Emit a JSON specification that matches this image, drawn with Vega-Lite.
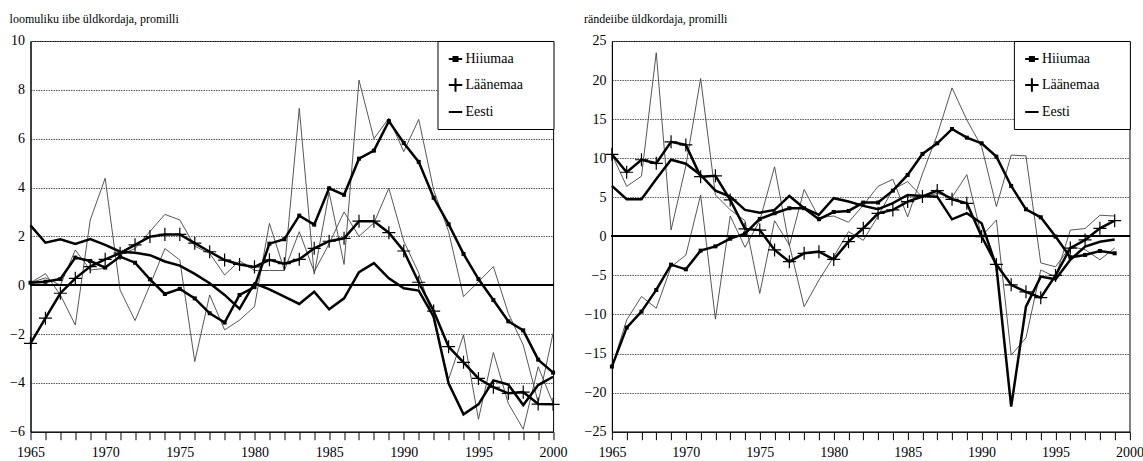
{
"$schema": "https://vega.github.io/schema/vega-lite/v6.json",
"padding": {"left": 8.5, "top": 12, "right": 0, "bottom": 0},
"background": "white",
"bounds": "flush",
"spacing": 58.4,
"resolve": {"scale": {"stroke": "independent"}, "legend": {"stroke": "independent"}},
"config": {
  "font": "Liberation Serif",
  "view": {"stroke": "#000", "strokeWidth": 1},
  "axis": {"labelFont": "Liberation Serif", "labelFontSize": 14, "labelColor": "#000", "domainColor": "#000", "tickColor": "#000", "title": null, "labelOverlap": false, "labelFlush": false},
  "title": {"font": "Liberation Serif", "fontSize": 12, "fontWeight": "normal", "anchor": "start", "color": "#000", "offset": 8},
  "legend": {"title": null, "orient": "top-right", "offset": 0, "padding": 10, "strokeColor": "#000", "fillColor": "#fff", "labelFont": "Liberation Serif", "labelFontSize": 14, "labelColor": "#000", "symbolSize": 180, "symbolStrokeWidth": 2, "rowPadding": 8, "labelOffset": 2}
},
"datasets": {
"loomulik": [
{"year":1965,"series":"Hiiumaa","value":0.10},{"year":1966,"series":"Hiiumaa","value":0.14},{"year":1967,"series":"Hiiumaa","value":0.25},{"year":1968,"series":"Hiiumaa","value":1.13},{"year":1969,"series":"Hiiumaa","value":0.99},{"year":1970,"series":"Hiiumaa","value":0.72},{"year":1971,"series":"Hiiumaa","value":1.17},{"year":1972,"series":"Hiiumaa","value":0.92},{"year":1973,"series":"Hiiumaa","value":0.24},{"year":1974,"series":"Hiiumaa","value":-0.36},{"year":1975,"series":"Hiiumaa","value":-0.15},{"year":1976,"series":"Hiiumaa","value":-0.54},{"year":1977,"series":"Hiiumaa","value":-1.15},{"year":1978,"series":"Hiiumaa","value":-1.53},{"year":1979,"series":"Hiiumaa","value":-0.40},{"year":1980,"series":"Hiiumaa","value":-0.08},{"year":1981,"series":"Hiiumaa","value":1.70},{"year":1982,"series":"Hiiumaa","value":1.88},{"year":1983,"series":"Hiiumaa","value":2.85},{"year":1984,"series":"Hiiumaa","value":2.48},{"year":1985,"series":"Hiiumaa","value":3.97},{"year":1986,"series":"Hiiumaa","value":3.70},{"year":1987,"series":"Hiiumaa","value":5.18},{"year":1988,"series":"Hiiumaa","value":5.51},{"year":1989,"series":"Hiiumaa","value":6.72},{"year":1990,"series":"Hiiumaa","value":5.82},{"year":1991,"series":"Hiiumaa","value":5.05},{"year":1992,"series":"Hiiumaa","value":3.58},{"year":1993,"series":"Hiiumaa","value":2.50},{"year":1994,"series":"Hiiumaa","value":1.28},{"year":1995,"series":"Hiiumaa","value":0.25},{"year":1996,"series":"Hiiumaa","value":-0.61},{"year":1997,"series":"Hiiumaa","value":-1.48},{"year":1998,"series":"Hiiumaa","value":-1.85},{"year":1999,"series":"Hiiumaa","value":-3.05},{"year":2000,"series":"Hiiumaa","value":-3.58},
{"year":1965,"series":"Läänemaa","value":-2.38},{"year":1966,"series":"Läänemaa","value":-1.35},{"year":1967,"series":"Läänemaa","value":-0.33},{"year":1968,"series":"Läänemaa","value":0.28},{"year":1969,"series":"Läänemaa","value":0.76},{"year":1970,"series":"Läänemaa","value":1.06},{"year":1971,"series":"Läänemaa","value":1.31},{"year":1972,"series":"Läänemaa","value":1.65},{"year":1973,"series":"Läänemaa","value":1.99},{"year":1974,"series":"Läänemaa","value":2.08},{"year":1975,"series":"Läänemaa","value":2.08},{"year":1976,"series":"Läänemaa","value":1.72},{"year":1977,"series":"Läänemaa","value":1.37},{"year":1978,"series":"Läänemaa","value":1.03},{"year":1979,"series":"Läänemaa","value":0.85},{"year":1980,"series":"Läänemaa","value":0.75},{"year":1981,"series":"Läänemaa","value":1.04},{"year":1982,"series":"Läänemaa","value":0.88},{"year":1983,"series":"Läänemaa","value":1.06},{"year":1984,"series":"Läänemaa","value":1.51},{"year":1985,"series":"Läänemaa","value":1.80},{"year":1986,"series":"Läänemaa","value":1.92},{"year":1987,"series":"Läänemaa","value":2.62},{"year":1988,"series":"Läänemaa","value":2.62},{"year":1989,"series":"Läänemaa","value":2.15},{"year":1990,"series":"Läänemaa","value":1.40},{"year":1991,"series":"Läänemaa","value":0.12},{"year":1992,"series":"Läänemaa","value":-1.06},{"year":1993,"series":"Läänemaa","value":-2.52},{"year":1994,"series":"Läänemaa","value":-3.16},{"year":1995,"series":"Läänemaa","value":-3.82},{"year":1996,"series":"Läänemaa","value":-4.18},{"year":1997,"series":"Läänemaa","value":-4.43},{"year":1998,"series":"Läänemaa","value":-4.38},{"year":1999,"series":"Läänemaa","value":-4.87},{"year":2000,"series":"Läänemaa","value":-4.88},
{"year":1965,"series":"Eesti","value":2.45},{"year":1966,"series":"Eesti","value":1.74},{"year":1967,"series":"Eesti","value":1.88},{"year":1968,"series":"Eesti","value":1.69},{"year":1969,"series":"Eesti","value":1.89},{"year":1970,"series":"Eesti","value":1.65},{"year":1971,"series":"Eesti","value":1.37},{"year":1972,"series":"Eesti","value":1.33},{"year":1973,"series":"Eesti","value":1.23},{"year":1974,"series":"Eesti","value":0.97},{"year":1975,"series":"Eesti","value":0.80},{"year":1976,"series":"Eesti","value":0.46},{"year":1977,"series":"Eesti","value":0.08},{"year":1978,"series":"Eesti","value":-0.40},{"year":1979,"series":"Eesti","value":-0.97},{"year":1980,"series":"Eesti","value":0.08},{"year":1981,"series":"Eesti","value":-0.17},{"year":1982,"series":"Eesti","value":-0.47},{"year":1983,"series":"Eesti","value":-0.77},{"year":1984,"series":"Eesti","value":-0.27},{"year":1985,"series":"Eesti","value":-0.99},{"year":1986,"series":"Eesti","value":-0.54},{"year":1987,"series":"Eesti","value":0.53},{"year":1988,"series":"Eesti","value":0.90},{"year":1989,"series":"Eesti","value":0.28},{"year":1990,"series":"Eesti","value":-0.13},{"year":1991,"series":"Eesti","value":-0.22},{"year":1992,"series":"Eesti","value":-1.29},{"year":1993,"series":"Eesti","value":-4.02},{"year":1994,"series":"Eesti","value":-5.29},{"year":1995,"series":"Eesti","value":-4.88},{"year":1996,"series":"Eesti","value":-3.90},{"year":1997,"series":"Eesti","value":-4.07},{"year":1998,"series":"Eesti","value":-4.91},{"year":1999,"series":"Eesti","value":-4.09},{"year":2000,"series":"Eesti","value":-3.75},
{"year":1965,"series":"Hiiumaa aastane","value":0.10},{"year":1966,"series":"Hiiumaa aastane","value":0.47},{"year":1967,"series":"Hiiumaa aastane","value":-0.40},{"year":1968,"series":"Hiiumaa aastane","value":-1.63},{"year":1969,"series":"Hiiumaa aastane","value":2.67},{"year":1970,"series":"Hiiumaa aastane","value":4.38},{"year":1971,"series":"Hiiumaa aastane","value":-0.20},{"year":1972,"series":"Hiiumaa aastane","value":-1.45},{"year":1973,"series":"Hiiumaa aastane","value":0.00},{"year":1974,"series":"Hiiumaa aastane","value":1.50},{"year":1975,"series":"Hiiumaa aastane","value":1.03},{"year":1976,"series":"Hiiumaa aastane","value":-3.13},{"year":1977,"series":"Hiiumaa aastane","value":-0.40},{"year":1978,"series":"Hiiumaa aastane","value":-1.83},{"year":1979,"series":"Hiiumaa aastane","value":-1.43},{"year":1980,"series":"Hiiumaa aastane","value":-0.88},{"year":1981,"series":"Hiiumaa aastane","value":2.53},{"year":1982,"series":"Hiiumaa aastane","value":0.62},{"year":1983,"series":"Hiiumaa aastane","value":7.24},{"year":1984,"series":"Hiiumaa aastane","value":0.45},{"year":1985,"series":"Hiiumaa aastane","value":3.80},{"year":1986,"series":"Hiiumaa aastane","value":0.85},{"year":1987,"series":"Hiiumaa aastane","value":8.40},{"year":1988,"series":"Hiiumaa aastane","value":6.00},{"year":1989,"series":"Hiiumaa aastane","value":6.84},{"year":1990,"series":"Hiiumaa aastane","value":5.47},{"year":1991,"series":"Hiiumaa aastane","value":6.79},{"year":1992,"series":"Hiiumaa aastane","value":3.90},{"year":1993,"series":"Hiiumaa aastane","value":2.20},{"year":1994,"series":"Hiiumaa aastane","value":-0.47},{"year":1995,"series":"Hiiumaa aastane","value":0.14},{"year":1996,"series":"Hiiumaa aastane","value":0.76},{"year":1997,"series":"Hiiumaa aastane","value":-1.15},{"year":1998,"series":"Hiiumaa aastane","value":-2.45},{"year":1999,"series":"Hiiumaa aastane","value":-4.80},{"year":2000,"series":"Hiiumaa aastane","value":-1.97},
{"year":1965,"series":"Läänemaa aastane","value":0.10},{"year":1966,"series":"Läänemaa aastane","value":0.30},{"year":1967,"series":"Läänemaa aastane","value":0.00},{"year":1968,"series":"Läänemaa aastane","value":1.44},{"year":1969,"series":"Läänemaa aastane","value":0.62},{"year":1970,"series":"Läänemaa aastane","value":0.69},{"year":1971,"series":"Läänemaa aastane","value":1.24},{"year":1972,"series":"Läänemaa aastane","value":1.50},{"year":1973,"series":"Läänemaa aastane","value":2.20},{"year":1974,"series":"Läänemaa aastane","value":2.90},{"year":1975,"series":"Läänemaa aastane","value":2.67},{"year":1976,"series":"Läänemaa aastane","value":1.60},{"year":1977,"series":"Läänemaa aastane","value":1.30},{"year":1978,"series":"Läänemaa aastane","value":0.42},{"year":1979,"series":"Läänemaa aastane","value":1.00},{"year":1980,"series":"Läänemaa aastane","value":0.60},{"year":1981,"series":"Läänemaa aastane","value":0.60},{"year":1982,"series":"Läänemaa aastane","value":0.60},{"year":1983,"series":"Läänemaa aastane","value":2.19},{"year":1984,"series":"Läänemaa aastane","value":0.55},{"year":1985,"series":"Läänemaa aastane","value":1.70},{"year":1986,"series":"Läänemaa aastane","value":3.00},{"year":1987,"series":"Läänemaa aastane","value":2.00},{"year":1988,"series":"Läänemaa aastane","value":2.55},{"year":1989,"series":"Läänemaa aastane","value":3.97},{"year":1990,"series":"Läänemaa aastane","value":1.80},{"year":1991,"series":"Läänemaa aastane","value":0.50},{"year":1992,"series":"Läänemaa aastane","value":-1.40},{"year":1993,"series":"Läänemaa aastane","value":-3.86},{"year":1994,"series":"Läänemaa aastane","value":-2.04},{"year":1995,"series":"Läänemaa aastane","value":-5.49},{"year":1996,"series":"Läänemaa aastane","value":-2.76},{"year":1997,"series":"Läänemaa aastane","value":-4.84},{"year":1998,"series":"Läänemaa aastane","value":-5.90},{"year":1999,"series":"Läänemaa aastane","value":-3.34},{"year":2000,"series":"Läänemaa aastane","value":-4.84}
],
"rande": [
{"year":1965,"series":"Hiiumaa","value":-16.67},{"year":1966,"series":"Hiiumaa","value":-11.68},{"year":1967,"series":"Hiiumaa","value":-9.63},{"year":1968,"series":"Hiiumaa","value":-6.86},{"year":1969,"series":"Hiiumaa","value":-3.62},{"year":1970,"series":"Hiiumaa","value":-4.22},{"year":1971,"series":"Hiiumaa","value":-1.83},{"year":1972,"series":"Hiiumaa","value":-1.28},{"year":1973,"series":"Hiiumaa","value":-0.30},{"year":1974,"series":"Hiiumaa","value":0.35},{"year":1975,"series":"Hiiumaa","value":2.23},{"year":1976,"series":"Hiiumaa","value":2.96},{"year":1977,"series":"Hiiumaa","value":3.60},{"year":1978,"series":"Hiiumaa","value":3.60},{"year":1979,"series":"Hiiumaa","value":2.19},{"year":1980,"series":"Hiiumaa","value":3.12},{"year":1981,"series":"Hiiumaa","value":3.25},{"year":1982,"series":"Hiiumaa","value":4.32},{"year":1983,"series":"Hiiumaa","value":4.32},{"year":1984,"series":"Hiiumaa","value":5.85},{"year":1985,"series":"Hiiumaa","value":7.86},{"year":1986,"series":"Hiiumaa","value":10.55},{"year":1987,"series":"Hiiumaa","value":11.91},{"year":1988,"series":"Hiiumaa","value":13.74},{"year":1989,"series":"Hiiumaa","value":12.63},{"year":1990,"series":"Hiiumaa","value":11.91},{"year":1991,"series":"Hiiumaa","value":10.20},{"year":1992,"series":"Hiiumaa","value":6.45},{"year":1993,"series":"Hiiumaa","value":3.46},{"year":1994,"series":"Hiiumaa","value":2.44},{"year":1995,"series":"Hiiumaa","value":-0.03},{"year":1996,"series":"Hiiumaa","value":-2.68},{"year":1997,"series":"Hiiumaa","value":-2.38},{"year":1998,"series":"Hiiumaa","value":-1.87},{"year":1999,"series":"Hiiumaa","value":-2.17},
{"year":1965,"series":"Läänemaa","value":10.50},{"year":1966,"series":"Läänemaa","value":8.20},{"year":1967,"series":"Läänemaa","value":9.80},{"year":1968,"series":"Läänemaa","value":9.35},{"year":1969,"series":"Läänemaa","value":12.10},{"year":1970,"series":"Läänemaa","value":11.70},{"year":1971,"series":"Läänemaa","value":7.64},{"year":1972,"series":"Läänemaa","value":7.75},{"year":1973,"series":"Läänemaa","value":4.66},{"year":1974,"series":"Läänemaa","value":0.95},{"year":1975,"series":"Läänemaa","value":0.80},{"year":1976,"series":"Läänemaa","value":-1.74},{"year":1977,"series":"Läänemaa","value":-3.24},{"year":1978,"series":"Läänemaa","value":-2.17},{"year":1979,"series":"Läänemaa","value":-1.96},{"year":1980,"series":"Läänemaa","value":-2.95},{"year":1981,"series":"Läänemaa","value":-0.68},{"year":1982,"series":"Läänemaa","value":1.03},{"year":1983,"series":"Läänemaa","value":2.95},{"year":1984,"series":"Läänemaa","value":3.38},{"year":1985,"series":"Läänemaa","value":4.45},{"year":1986,"series":"Läänemaa","value":5.10},{"year":1987,"series":"Läänemaa","value":5.85},{"year":1988,"series":"Läänemaa","value":4.74},{"year":1989,"series":"Läänemaa","value":4.23},{"year":1990,"series":"Läänemaa","value":-0.03},{"year":1991,"series":"Läänemaa","value":-3.60},{"year":1992,"series":"Läänemaa","value":-6.20},{"year":1993,"series":"Läänemaa","value":-7.10},{"year":1994,"series":"Läänemaa","value":-7.85},{"year":1995,"series":"Läänemaa","value":-5.00},{"year":1996,"series":"Läänemaa","value":-1.50},{"year":1997,"series":"Läänemaa","value":-0.46},{"year":1998,"series":"Läänemaa","value":1.03},{"year":1999,"series":"Läänemaa","value":2.00},
{"year":1965,"series":"Eesti","value":6.45},{"year":1966,"series":"Eesti","value":4.75},{"year":1967,"series":"Eesti","value":4.75},{"year":1968,"series":"Eesti","value":7.35},{"year":1969,"series":"Eesti","value":9.80},{"year":1970,"series":"Eesti","value":9.30},{"year":1971,"series":"Eesti","value":7.86},{"year":1972,"series":"Eesti","value":5.85},{"year":1973,"series":"Eesti","value":5.08},{"year":1974,"series":"Eesti","value":3.38},{"year":1975,"series":"Eesti","value":3.03},{"year":1976,"series":"Eesti","value":3.38},{"year":1977,"series":"Eesti","value":5.17},{"year":1978,"series":"Eesti","value":3.60},{"year":1979,"series":"Eesti","value":2.75},{"year":1980,"series":"Eesti","value":4.88},{"year":1981,"series":"Eesti","value":4.45},{"year":1982,"series":"Eesti","value":3.90},{"year":1983,"series":"Eesti","value":3.47},{"year":1984,"series":"Eesti","value":4.24},{"year":1985,"series":"Eesti","value":5.30},{"year":1986,"series":"Eesti","value":5.17},{"year":1987,"series":"Eesti","value":5.08},{"year":1988,"series":"Eesti","value":2.18},{"year":1989,"series":"Eesti","value":2.96},{"year":1990,"series":"Eesti","value":1.68},{"year":1991,"series":"Eesti","value":-3.86},{"year":1992,"series":"Eesti","value":-21.80},{"year":1993,"series":"Eesti","value":-9.00},{"year":1994,"series":"Eesti","value":-5.15},{"year":1995,"series":"Eesti","value":-5.50},{"year":1996,"series":"Eesti","value":-3.00},{"year":1997,"series":"Eesti","value":-1.30},{"year":1998,"series":"Eesti","value":-0.70},{"year":1999,"series":"Eesti","value":-0.40},
{"year":1965,"series":"Hiiumaa aastane","value":-16.7},{"year":1966,"series":"Hiiumaa aastane","value":-10.7},{"year":1967,"series":"Hiiumaa aastane","value":-7.7},{"year":1968,"series":"Hiiumaa aastane","value":-9.2},{"year":1969,"series":"Hiiumaa aastane","value":-3.9},{"year":1970,"series":"Hiiumaa aastane","value":-2.4},{"year":1971,"series":"Hiiumaa aastane","value":5.3},{"year":1972,"series":"Hiiumaa aastane","value":-10.6},{"year":1973,"series":"Hiiumaa aastane","value":2.6},{"year":1974,"series":"Hiiumaa aastane","value":-1.4},{"year":1975,"series":"Hiiumaa aastane","value":2.0},{"year":1976,"series":"Hiiumaa aastane","value":8.9},{"year":1977,"series":"Hiiumaa aastane","value":-1.2},{"year":1978,"series":"Hiiumaa aastane","value":6.0},{"year":1979,"series":"Hiiumaa aastane","value":2.4},{"year":1980,"series":"Hiiumaa aastane","value":2.6},{"year":1981,"series":"Hiiumaa aastane","value":1.8},{"year":1982,"series":"Hiiumaa aastane","value":4.0},{"year":1983,"series":"Hiiumaa aastane","value":6.4},{"year":1984,"series":"Hiiumaa aastane","value":7.3},{"year":1985,"series":"Hiiumaa aastane","value":2.5},{"year":1986,"series":"Hiiumaa aastane","value":8.0},{"year":1987,"series":"Hiiumaa aastane","value":13.0},{"year":1988,"series":"Hiiumaa aastane","value":19.0},{"year":1989,"series":"Hiiumaa aastane","value":14.9},{"year":1990,"series":"Hiiumaa aastane","value":11.5},{"year":1991,"series":"Hiiumaa aastane","value":3.8},{"year":1992,"series":"Hiiumaa aastane","value":10.4},{"year":1993,"series":"Hiiumaa aastane","value":10.3},{"year":1994,"series":"Hiiumaa aastane","value":-3.4},{"year":1995,"series":"Hiiumaa aastane","value":-3.9},{"year":1996,"series":"Hiiumaa aastane","value":-1.3},{"year":1997,"series":"Hiiumaa aastane","value":-1.7},{"year":1998,"series":"Hiiumaa aastane","value":-3.0},{"year":1999,"series":"Hiiumaa aastane","value":-1.5},
{"year":1965,"series":"Läänemaa aastane","value":10.5},{"year":1966,"series":"Läänemaa aastane","value":6.4},{"year":1967,"series":"Läänemaa aastane","value":7.7},{"year":1968,"series":"Läänemaa aastane","value":23.5},{"year":1969,"series":"Läänemaa aastane","value":0.8},{"year":1970,"series":"Läänemaa aastane","value":9.0},{"year":1971,"series":"Läänemaa aastane","value":20.2},{"year":1972,"series":"Läänemaa aastane","value":5.3},{"year":1973,"series":"Läänemaa aastane","value":3.4},{"year":1974,"series":"Läänemaa aastane","value":2.0},{"year":1975,"series":"Läänemaa aastane","value":-7.3},{"year":1976,"series":"Läänemaa aastane","value":2.0},{"year":1977,"series":"Läänemaa aastane","value":-1.1},{"year":1978,"series":"Läänemaa aastane","value":-9.0},{"year":1979,"series":"Läänemaa aastane","value":-5.6},{"year":1980,"series":"Läänemaa aastane","value":-2.6},{"year":1981,"series":"Läänemaa aastane","value":0.6},{"year":1982,"series":"Läänemaa aastane","value":-0.5},{"year":1983,"series":"Läänemaa aastane","value":2.6},{"year":1984,"series":"Läänemaa aastane","value":6.0},{"year":1985,"series":"Läänemaa aastane","value":7.0},{"year":1986,"series":"Läänemaa aastane","value":5.0},{"year":1987,"series":"Läänemaa aastane","value":5.5},{"year":1988,"series":"Läänemaa aastane","value":5.0},{"year":1989,"series":"Läänemaa aastane","value":7.9},{"year":1990,"series":"Läänemaa aastane","value":0.0},{"year":1991,"series":"Läänemaa aastane","value":2.1},{"year":1992,"series":"Läänemaa aastane","value":-15.2},{"year":1993,"series":"Läänemaa aastane","value":-13.0},{"year":1994,"series":"Läänemaa aastane","value":-4.3},{"year":1995,"series":"Läänemaa aastane","value":-5.2},{"year":1996,"series":"Läänemaa aastane","value":0.8},{"year":1997,"series":"Läänemaa aastane","value":1.0},{"year":1998,"series":"Läänemaa aastane","value":2.7},{"year":1999,"series":"Läänemaa aastane","value":2.6}
]
},
"hconcat": [
{
  "width": 522.6, "height": 390.7,
  "title": {"text": "loomuliku iibe üldkordaja, promilli"},
  "data": {"name": "loomulik"},
  "layer": [
    {"transform": [{"filter": {"field": "series", "oneOf": ["Hiiumaa aastane", "Läänemaa aastane"]}}],
     "mark": {"type": "line", "color": "#444", "strokeWidth": 0.9},
     "encoding": {
       "x": {"field": "year", "type": "quantitative", "scale": {"domain": [1965, 2000], "nice": false, "zero": false},
             "axis": {"values": [1965,1966,1967,1968,1969,1970,1971,1972,1973,1974,1975,1976,1977,1978,1979,1980,1981,1982,1983,1984,1985,1986,1987,1988,1989,1990,1991,1992,1993,1994,1995,1996,1997,1998,1999,2000], "tickCount": 100, "labelExpr": "datum.value % 5 === 0 ? format(datum.value, 'd') : ''", "grid": false, "tickSize": 8, "labelPadding": 6, "labelFlush": false, "labelOverlap": false, "labelFont": "Liberation Serif"}},
       "y": {"field": "value", "type": "quantitative", "scale": {"domain": [-6, 10], "nice": false, "zero": false},
             "axis": {"values": [-6,-4,-2,0,2,4,6,8,10], "tickCount": 100, "format": "d", "grid": true, "gridColor": "#555", "gridDash": [1.5, 1], "ticks": false, "tickSize": 0, "labelPadding": 6, "labelOverlap": false, "labelFont": "Liberation Serif"}},
       "detail": {"field": "series"}
     }},
    {"mark": {"type": "rule", "color": "#000", "strokeWidth": 1}, "encoding": {"y": {"datum": 0}}},
    {"transform": [{"filter": {"field": "series", "oneOf": ["Hiiumaa", "Läänemaa", "Eesti"]}}],
     "mark": {"type": "line", "strokeWidth": 2.5},
     "encoding": {
       "x": {"field": "year", "type": "quantitative"},
       "y": {"field": "value", "type": "quantitative"},
       "stroke": {"field": "series", "type": "nominal", "scale": {"domain": ["Hiiumaa", "Läänemaa", "Eesti"], "range": ["#000", "#000", "#000"]},
         "legend": {"labelFont": "Liberation Serif", "encode": {"symbols": {"update": {"shape": {"signal": "datum.value === 'Hiiumaa' ? 'M-1,0H1M-0.3,-0.3H0.3V0.3H-0.3ZM12.5,0' : datum.value === 'Läänemaa' ? 'M-1,0H1M0,-1V1M12.5,0' : 'M-1,0H1M12.5,0'"}, "fill": {"value": "#000"}, "stroke": {"value": "#000"}}}}}}
     }},
    {"transform": [{"filter": {"field": "series", "equal": "Hiiumaa"}}],
     "mark": {"type": "point", "shape": "square", "filled": true, "size": 16, "color": "#000", "opacity": 1},
     "encoding": {"x": {"field": "year", "type": "quantitative"}, "y": {"field": "value", "type": "quantitative"}}},
    {"transform": [{"filter": {"field": "series", "equal": "Läänemaa"}}],
     "mark": {"type": "point", "shape": "M-1,0H1M0,-1V1", "filled": false, "size": 170, "color": "#000", "strokeWidth": 1.2, "opacity": 1},
     "encoding": {"x": {"field": "year", "type": "quantitative"}, "y": {"field": "value", "type": "quantitative"}}}
  ]
},
{
  "width": 517.6, "height": 390.7,
  "title": {"text": "rändeiibe üldkordaja, promilli"},
  "data": {"name": "rande"},
  "layer": [
    {"transform": [{"filter": {"field": "series", "oneOf": ["Hiiumaa aastane", "Läänemaa aastane"]}}],
     "mark": {"type": "line", "color": "#444", "strokeWidth": 0.9},
     "encoding": {
       "x": {"field": "year", "type": "quantitative", "scale": {"domain": [1965, 2000], "nice": false, "zero": false},
             "axis": {"values": [1965,1966,1967,1968,1969,1970,1971,1972,1973,1974,1975,1976,1977,1978,1979,1980,1981,1982,1983,1984,1985,1986,1987,1988,1989,1990,1991,1992,1993,1994,1995,1996,1997,1998,1999,2000], "tickCount": 100, "labelExpr": "datum.value % 5 === 0 ? format(datum.value, 'd') : ''", "grid": false, "tickSize": 8, "labelPadding": 6, "labelFlush": false, "labelOverlap": false, "labelFont": "Liberation Serif"}},
       "y": {"field": "value", "type": "quantitative", "scale": {"domain": [-25, 25], "nice": false, "zero": false},
             "axis": {"values": [-25,-20,-15,-10,-5,0,5,10,15,20,25], "tickCount": 100, "format": "d", "grid": true, "gridColor": "#555", "gridDash": [1.5, 1], "ticks": false, "tickSize": 0, "labelPadding": 6, "labelOverlap": false, "labelFont": "Liberation Serif"}},
       "detail": {"field": "series"}
     }},
    {"mark": {"type": "rule", "color": "#000", "strokeWidth": 1}, "encoding": {"y": {"datum": 0}}},
    {"transform": [{"filter": {"field": "series", "oneOf": ["Hiiumaa", "Läänemaa", "Eesti"]}}],
     "mark": {"type": "line", "strokeWidth": 2.5},
     "encoding": {
       "x": {"field": "year", "type": "quantitative"},
       "y": {"field": "value", "type": "quantitative"},
       "stroke": {"field": "series", "type": "nominal", "scale": {"domain": ["Hiiumaa", "Läänemaa", "Eesti"], "range": ["#000", "#000", "#000"]},
         "legend": {"labelFont": "Liberation Serif", "encode": {"symbols": {"update": {"shape": {"signal": "datum.value === 'Hiiumaa' ? 'M-1,0H1M-0.3,-0.3H0.3V0.3H-0.3ZM12.5,0' : datum.value === 'Läänemaa' ? 'M-1,0H1M0,-1V1M12.5,0' : 'M-1,0H1M12.5,0'"}, "fill": {"value": "#000"}, "stroke": {"value": "#000"}}}}}}
     }},
    {"transform": [{"filter": {"field": "series", "equal": "Hiiumaa"}}],
     "mark": {"type": "point", "shape": "square", "filled": true, "size": 16, "color": "#000", "opacity": 1},
     "encoding": {"x": {"field": "year", "type": "quantitative"}, "y": {"field": "value", "type": "quantitative"}}},
    {"transform": [{"filter": {"field": "series", "equal": "Läänemaa"}}],
     "mark": {"type": "point", "shape": "M-1,0H1M0,-1V1", "filled": false, "size": 170, "color": "#000", "strokeWidth": 1.2, "opacity": 1},
     "encoding": {"x": {"field": "year", "type": "quantitative"}, "y": {"field": "value", "type": "quantitative"}}}
  ]
}
]
}
